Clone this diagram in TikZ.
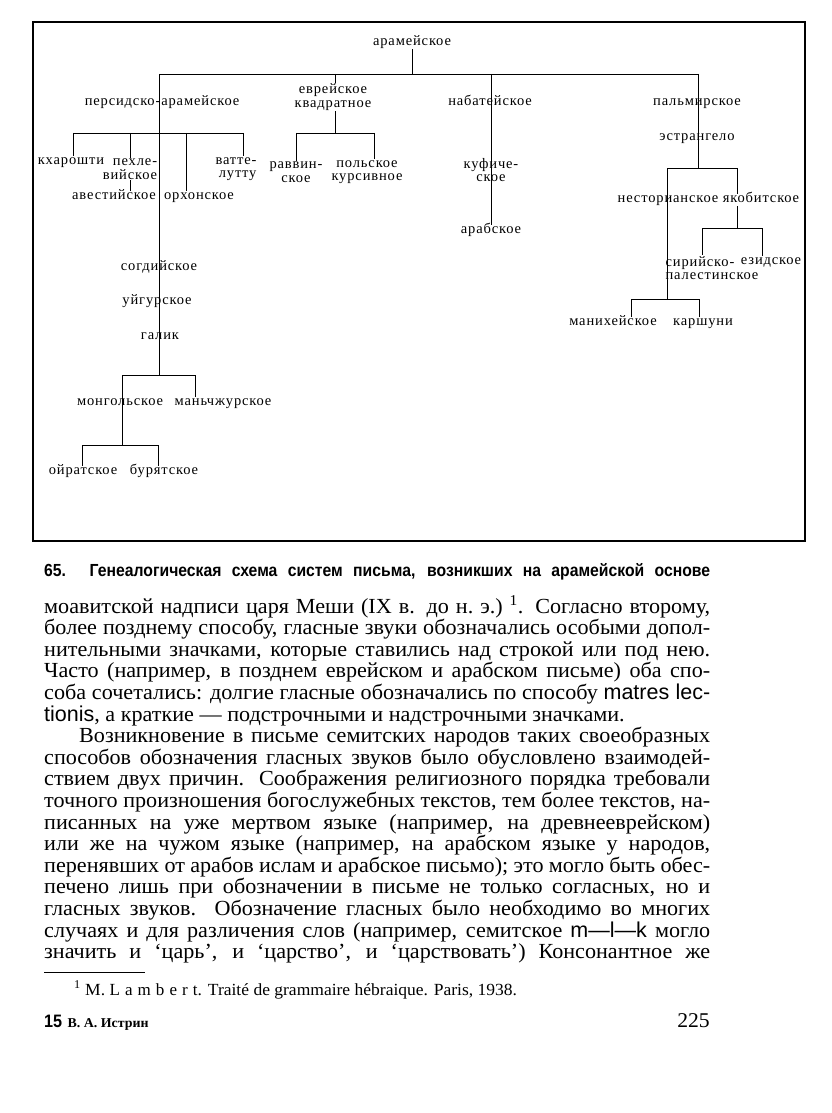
\documentclass[tikz,border=0pt]{standalone}
\usepackage{fontspec}
\setmainfont{Liberation Serif}
\newfontfamily\labfont[LetterSpace=6]{Liberation Serif}
\newfontfamily\bodyfont[FakeStretch=1.03]{Liberation Serif}
\newfontfamily\capfont[FakeStretch=0.9]{Liberation Sans}
\newfontfamily\latfont{Liberation Sans}
\newfontfamily\sparsefont[LetterSpace=30]{Liberation Serif}
\usetikzlibrary{positioning}
\tikzset{
  lab/.style={font=\labfont\fontsize{14.5}{13.5}\selectfont,inner sep=1pt,
    text height=8pt,text depth=2.5pt},
  labtwo/.style={font=\labfont\fontsize{14.5}{13.5}\selectfont,inner sep=1pt,align=center},
  link/.style={line width=0.9pt,draw=black},
  frame/.style={line width=1.9pt,draw=black},
  caption/.style={anchor=base west,inner sep=0pt,font=\capfont\bfseries\fontsize{17.5}{18}\selectfont},
  bodyline/.style={anchor=base west,inner sep=0pt,font=\bodyfont\fontsize{21.5}{21.6}\selectfont},
  noteline/.style={anchor=base west,inner sep=0pt,font=\bodyfont\fontsize{17}{18}\selectfont}
}
\begin{document}
\begin{tikzpicture}[x=1pt,y=-1pt]
\useasboundingbox (0,0) rectangle (831,1113);
\fill[white] (0,0) rectangle (831,1113);
\draw[frame] (33,22) rectangle (805,541);

% labels of the tree
\node[lab] (aram) at (412,43) {арамейское};
\node[lab] (pers) at (162,103) {персидско-арамейское};
\node[labtwo] (hebr) at (333,97) {еврейское\\квадратное};
\node[lab] (nabat) at (490,103) {набатейское};
\node[lab] (palm) at (697,103) {пальмирское};
\node[lab] (estr) at (697,138) {эстрангело};
\node[lab] (kharo) at (71,162) {кхарошти};
\node[labtwo,align=right] (pehl) at (130,169) {пехле-\\вийское};
\node[lab] (avest) at (114,197) {авестийское};
\node[lab] (orkh) at (199,197) {орхонское};
\node[labtwo,align=right] (vatt) at (236,169) {ватте-\\лутту};
\node[labtwo] (rabb) at (296,172) {раввин-\\ское};
\node[labtwo] (polsk) at (367,172) {польское\\курсивное};
\node[labtwo] (kufi) at (491,170) {куфиче-\\ское};
\node[lab] (arab) at (491,231) {арабское};
\node[lab] (nest) at (668,200) {несторианское};
\node[lab] (jacob) at (761,200) {якобитское};
\node[labtwo,align=left] (syrpal) at (712,268) {сирийско-\\палестинское};
\node[lab] (ezid) at (771,262) {езидское};
\node[lab] (manich) at (613,323) {манихейское};
\node[lab] (karsh) at (703,323) {каршуни};
\node[lab] (sogd) at (159,268) {согдийское};
\node[lab] (uigur) at (157,302) {уйгурское};
\node[lab] (galik) at (160,337) {галик};
\node[lab] (mong) at (120,403) {монгольское};
\node[lab] (manch) at (223,403) {маньчжурское};
\node[lab] (oirat) at (83,472) {ойратское};
\node[lab] (buryat) at (164,472) {бурятское};

% junctions
\coordinate (tl) at (159,74);
\coordinate (tr) at (698,74);
\coordinate (troot) at (412,74);
\coordinate (thebr) at (335,74);
\coordinate (tnab) at (491,74);
\coordinate (pbl) at (73,133);
\coordinate (ppeh) at (130,133);
\coordinate (porkh) at (186,133);
\coordinate (pbr) at (243,133);
\coordinate (hb) at (335,133);
\coordinate (hbl) at (296,133);
\coordinate (hbr) at (374,133);
\coordinate (ebl) at (667,168);
\coordinate (ebr) at (737,168);
\coordinate (jbl) at (702,228);
\coordinate (jbar) at (737,228);
\coordinate (jbr) at (762,228);
\coordinate (nbl) at (631,299);
\coordinate (nbar) at (667,299);
\coordinate (nbr) at (699,299);
\coordinate (mbl) at (122,375);
\coordinate (mjoin) at (159,375);
\coordinate (mbr) at (195,375);
\coordinate (obl) at (82,445);
\coordinate (obar) at (122,445);
\coordinate (obr) at (158,445);

% connectors
\draw[link] (aram.south) -- (troot);
\draw[link] (tl) -- (tr);
\draw[link] (tl) -- (mjoin);
\draw[link] (thebr) -- (thebr |- hebr.north);
\draw[link] (tnab) -- (tnab |- arab.north);
\draw[link] (tr) -- (tr |- ebl);
\draw[link] (pbl) -- (pbr);
\draw[link] (pbl) -- (pbl |- kharo.north);
\draw[link] (ppeh) -- (ppeh |- pehl.north);
\draw[link] (ppeh |- pehl.south) -- (ppeh |- avest.north);
\draw[link] (porkh) -- (porkh |- orkh.north);
\draw[link] (pbr) -- (pbr |- vatt.north);
\draw[link] (hb |- hebr.south) -- (hb);
\draw[link] (hbl) -- (hbr);
\draw[link] (hbl) -- (hbl |- rabb.north);
\draw[link] (hbr) -- (hbr |- polsk.north);
\draw[link] (ebl) -- (ebr);
\draw[link] (ebl) -- (nbar);
\draw[link] (ebr) -- (ebr |- jacob.north);
\draw[link] (jbar |- jacob.south) -- (jbar);
\draw[link] (jbl) -- (jbr);
\draw[link] (jbl) -- (jbl |- syrpal.north);
\draw[link] (jbr) -- (jbr |- ezid.north);
\draw[link] (nbl) -- (nbr);
\draw[link] (nbl) -- (nbl |- manich.north);
\draw[link] (nbr) -- (nbr |- karsh.north);
\draw[link] (mbl) -- (mbr);
\draw[link] (mbl) -- (obar);
\draw[link] (mbr) -- (mbr |- manch.north);
\draw[link] (obl) -- (obr);
\draw[link] (obl) -- (obl |- oirat.north);
\draw[link] (obr) -- (obr |- buryat.north);

% caption and page text
\node[caption] (cap) at (44,576) {\makebox[666pt][s]{65. Генеалогическая схема систем письма, возникших на арамейской основе}};
\node[bodyline] (b1) at (44,613) {\makebox[666pt][s]{моавитской надписи царя Меши (IX в. до н.~э.)~\textsuperscript{1}. Согласно второму,}};
\node[bodyline] (b2) at (44,634.6) {\makebox[666pt][s]{более позднему способу, гласные звуки обозначались особыми допол-}};
\node[bodyline] (b3) at (44,656.2) {\makebox[666pt][s]{нительными значками, которые ставились над строкой или под нею.}};
\node[bodyline] (b4) at (44,677.8) {\makebox[666pt][s]{Часто (например, в позднем еврейском и арабском письме) оба спо-}};
\node[bodyline] (b5) at (44,699.4) {\makebox[666pt][s]{соба сочетались: долгие гласные обозначались по способу {\latfont matres lec-}}};
\node[bodyline] (b6) at (44,721) {{\latfont tionis}, а краткие — подстрочными и надстрочными значками.};
\node[bodyline] (b7) at (79,742.6) {\makebox[631pt][s]{Возникновение в письме семитских народов таких своеобразных}};
\node[bodyline] (b8) at (44,764.2) {\makebox[666pt][s]{способов обозначения гласных звуков было обусловлено взаимодей-}};
\node[bodyline] (b9) at (44,785.8) {\makebox[666pt][s]{ствием двух причин. Соображения религиозного порядка требовали}};
\node[bodyline] (b10) at (44,807.4) {\makebox[666pt][s]{точного произношения богослужебных текстов, тем более текстов, на-}};
\node[bodyline] (b11) at (44,829) {\makebox[666pt][s]{писанных на уже мертвом языке (например, на древнееврейском)}};
\node[bodyline] (b12) at (44,850.6) {\makebox[666pt][s]{или же на чужом языке (например, на арабском языке у народов,}};
\node[bodyline] (b13) at (44,872.2) {\makebox[666pt][s]{перенявших от арабов ислам и арабское письмо); это могло быть обес-}};
\node[bodyline] (b14) at (44,893.8) {\makebox[666pt][s]{печено лишь при обозначении в письме не только согласных, но и}};
\node[bodyline] (b15) at (44,915.4) {\makebox[666pt][s]{гласных звуков. Обозначение гласных было необходимо во многих}};
\node[bodyline] (b16) at (44,937) {\makebox[666pt][s]{случаях и для различения слов (например, семитское {\latfont m—l—k} могло}};
\node[bodyline] (b17) at (44,958.6) {\makebox[666pt][s]{значить и ‘царь’, и ‘царство’, и ‘царствовать’) Консонантное же}};

% footnote and foot of the page
\coordinate (rulel) at (44,972);
\coordinate (ruler) at (145,972);
\draw[line width=0.8pt] (rulel) -- (ruler);
\node[noteline] (note) at (74,995) {\textsuperscript{1} M. {\sparsefont Lambert}. Traité de grammaire hébraique. Paris, 1938.};
\node[anchor=base west,inner sep=0pt,font=\capfont\bfseries\fontsize{18}{18}\selectfont] (sheet) at (44,1027) {15};
\node[inner sep=0pt,font=\bodyfont\bfseries\fontsize{13.5}{14}\selectfont,right=5pt of sheet.base east,anchor=base west] (auth) {В. А. Истрин};
\node[anchor=base east,inner sep=0pt,font=\bodyfont\fontsize{21}{21}\selectfont] (page) at (710,1027) {225};
\end{tikzpicture}
\end{document}
